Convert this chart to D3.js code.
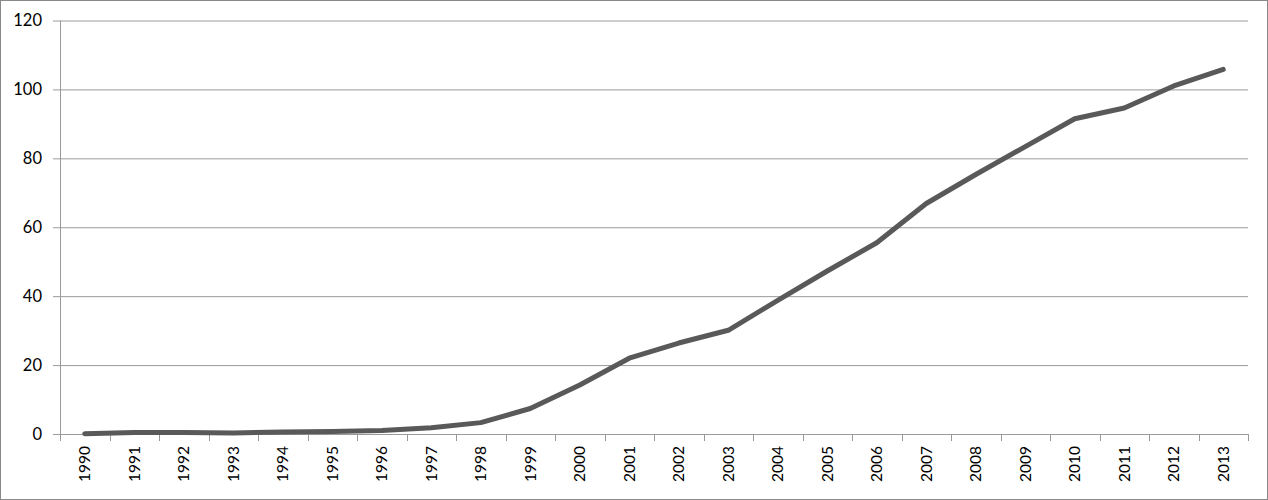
<!DOCTYPE html>
<html><head><meta charset="utf-8">
<script src="https://cdn.jsdelivr.net/npm/d3@7"></script>
<style>body{margin:0;background:#fff}svg{display:block}</style>
</head><body>
<svg id="c" width="1268" height="500"></svg>
<script>
const years = ["1990","1991","1992","1993","1994","1995","1996","1997","1998","1999","2000","2001","2002","2003","2004","2005","2006","2007","2008","2009","2010","2011","2012","2013"];
const values = [0.1,0.4,0.4,0.3,0.6,0.7,1.0,1.8,3.3,7.4,14.2,22.0,26.4,30.1,38.8,47.3,55.5,66.9,75.3,83.4,91.5,94.6,101.0,105.8];
const yTicks = [0,20,40,60,80,100,120];

const svg = d3.select("#c");
const W=1268,H=500;
const m={l:60,r:20,t:20.5,b:66};
const x = d3.scaleBand().domain(years).range([m.l, W-m.r]);
const y = d3.scaleLinear().domain([0,120]).range([434, m.t]);

svg.append("rect").attr("x",0.5).attr("y",0.5).attr("width",W-1).attr("height",H-1)
  .attr("fill","#fff").attr("stroke","#898989").attr("stroke-width",1);

// grid
const ya = svg.append("g").attr("transform",`translate(${m.l},0)`)
  .call(d3.axisLeft(y).tickValues(yTicks).tickSize(7).tickPadding(11));
ya.select(".domain").attr("stroke","#9a9a9a").attr("d",`M0.5,${y(120)}V${y(0)}`);
ya.selectAll(".tick line").attr("stroke","#9a9a9a").attr("x2",W-m.r-m.l).attr("x1",-7);
ya.selectAll(".tick text").attr("font-family","Lato, 'Open Sans', sans-serif").attr("font-size",16.5).attr("fill","#000");

// x axis
const xa = svg.append("g").attr("transform",`translate(0,${y(0)})`)
  .call(d3.axisBottom(x).tickSize(0).tickPadding(0));
xa.select(".domain").attr("stroke","#9a9a9a").attr("d",`M${m.l},0.5H${W-m.r}`);
xa.selectAll(".tick text")
  .attr("font-family","Lato, 'Open Sans', sans-serif").attr("font-size",15.5).attr("fill","#000")
  .attr("transform","rotate(-90)").attr("text-anchor","end").attr("x",-12).attr("y",0).attr("dy","0.35em");
const bounds = years.map(d=>x(d)).concat([W-m.r]);
xa.selectAll(".bt").data(bounds).enter().append("line").attr("class","bt")
  .attr("x1",d=>Math.round(d)+0.5).attr("x2",d=>Math.round(d)+0.5).attr("y1",0).attr("y2",7).attr("stroke","#9a9a9a");

// line
const line = d3.line().x((d,i)=>x(years[i])+x.bandwidth()/2).y(d=>y(d));
svg.append("path").datum(values).attr("d",line).attr("fill","none")
  .attr("stroke","#595959").attr("stroke-width",5).attr("stroke-linejoin","round").attr("stroke-linecap","round");
</script>
</body></html>
